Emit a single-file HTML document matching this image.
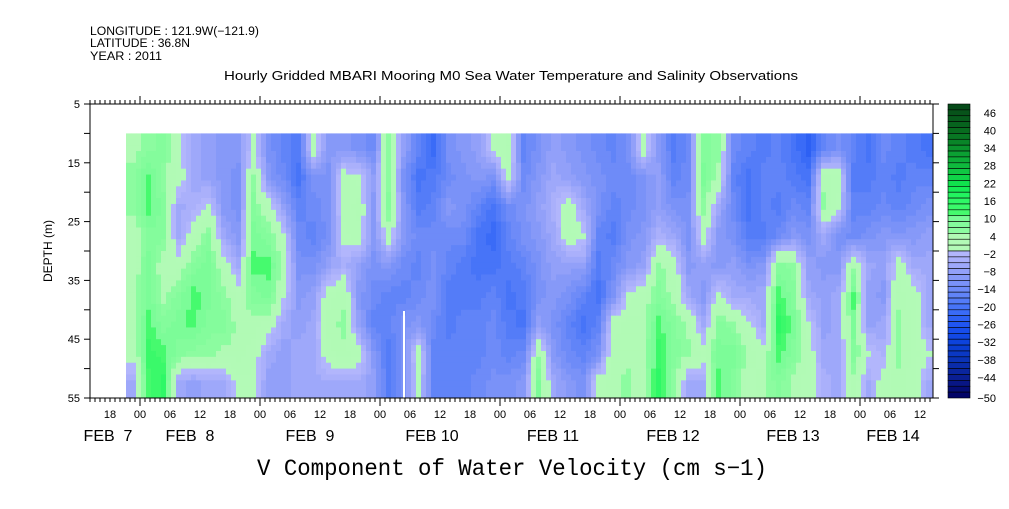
<!DOCTYPE html>
<html><head><meta charset="utf-8"><style>
body{margin:0;background:#fff;width:1009px;height:504px;overflow:hidden}
svg text{font-family:"Liberation Sans",sans-serif;fill:#000}
</style></head><body>
<svg id="chart" width="1009" height="504" xmlns="http://www.w3.org/2000/svg">
<g font-size="11.5">
<text x="90" y="35" textLength="169" lengthAdjust="spacingAndGlyphs">LONGITUDE : 121.9W(−121.9)</text>
<text x="90" y="47" textLength="100" lengthAdjust="spacingAndGlyphs">LATITUDE : 36.8N</text>
<text x="90" y="60" textLength="72" lengthAdjust="spacingAndGlyphs">YEAR : 2011</text>
</g>
<text x="224" y="80" font-size="13" textLength="574" lengthAdjust="spacingAndGlyphs">Hourly Gridded MBARI Mooring M0 Sea Water Temperature and Salinity Observations</text>
<g id="heat"></g>
<g id="axes"></g>
<g id="cbar"></g>
<text transform="translate(52,251) rotate(-90)" font-size="12" text-anchor="middle">DEPTH (m)</text>
<text x="512" y="475" font-size="23" text-anchor="middle" textLength="510" lengthAdjust="spacingAndGlyphs" style="font-family:'Liberation Mono',monospace">V Component of Water Velocity (cm s−1)</text>
</svg>
<script>
// hours relative to Feb 7 00:00 (center of each 3-hour column)
const colHours = [];
for (let k = 0; k < 54; k++) colHours.push(-2.8 + 3*k + 1.5);
const depths = [12.5,17.5,22.5,27.5,32.5,37.5,42.5,47.5,52.5];
const v0 = [[6,8,8,4,4,6,6,4,-4],[8,14,14,10,12,12,14,16,14],[10,8,10,10,4,6,10,14,18],[2,4,-4,-4,4,10,12,10,-4],[-4,-4,-2,4,10,14,14,8,-6],[-6,-6,2,10,12,12,10,8,-4],[-8,-8,-8,-4,4,8,10,6,-4],[-8,-10,-10,-8,-4,4,6,6,2],[2,8,10,12,14,10,6,4,2],[-10,-8,4,10,14,12,4,-4,-6],[-14,-12,-6,2,6,2,-4,-6,-6],[-16,-18,-14,-12,-10,-8,-6,-4,-4],[4,-10,-12,-14,-10,-6,-4,-4,-4],[-8,-10,-10,-10,-6,4,6,4,-4],[-8,4,4,2,-2,6,8,6,-4],[-10,2,6,4,-6,-8,-6,4,-4],[-12,-6,-8,-8,-10,-12,-14,-8,-6],[8,8,10,4,-8,-14,-14,-16,-16]];
const v1 = [[-6,-10,-8,-8,-12,-14,-10,-10,-10],[-14,-18,-16,-12,-14,-12,-8,4,2],[-20,-16,-14,-12,-10,-10,-12,-14,-14],[-10,-12,-8,-12,-14,-16,-16,-14,-14],[-8,-10,-10,-12,-16,-16,-14,-14,-14],[-6,-8,-14,-18,-18,-16,-14,-14,-12],[2,-10,-18,-20,-18,-14,-12,-12,-10],[6,4,-12,-14,-16,-18,-16,-14,-10],[-14,-12,-10,-10,-14,-16,-18,-12,-8],[-10,-8,-6,-8,-10,-10,-6,6,12],[-6,-4,-2,-4,-6,-8,-10,-8,-4],[-8,-6,4,4,-6,-10,-14,-12,-8],[-10,-8,-4,2,-6,-14,-18,-14,-10],[-12,-10,-10,-14,-16,-18,-14,-10,4],[-14,-12,-14,-16,-12,-10,4,6,6],[-10,-12,-12,-10,-8,2,6,6,8],[4,-10,-10,-8,-6,4,6,6,4],[-8,-6,-6,-2,8,10,14,16,18]];
const v2 = [[-16,-14,-10,-4,4,6,10,10,8],[-12,-12,-10,-10,-8,-4,6,8,-4],[10,12,8,4,-6,-8,-4,4,-4],[8,6,-4,-8,-8,2,10,12,14],[-12,-14,-12,-10,-6,-4,8,12,10],[-14,-18,-18,-16,-10,-4,2,6,4],[-16,-14,-14,-16,-8,-4,-4,4,6],[-14,-14,-16,-12,10,14,18,14,10],[-18,-16,-12,-8,8,10,12,10,6],[-22,-18,-14,-10,-6,-4,2,4,4],[-14,6,8,-4,-8,-6,-6,-4,-2],[-10,4,2,-10,-8,-4,-4,-4,-4],[-14,-16,-14,-12,6,14,12,10,6],[-18,-16,-14,-10,-4,-6,-6,2,-4],[-12,-14,-12,-8,-6,-8,-4,-2,4],[-14,-16,-14,-8,4,6,8,8,6],[-16,-14,-12,-8,-4,4,4,4,4],[-18,-14,-10,-6,-4,-4,-4,2,-4]];
const values = v0.concat(v1, v2);
const cbarTicks = [46,40,34,28,22,16,10,4,-2,-8,-14,-20,-26,-32,-38,-44,-50];
const yTicks = [5,15,25,35,45,55];
const hourLabels = ["18","00","06","12","18","00","06","12","18","00","06","12","18","00","06","12","18","00","06","12","18","00","06","12","18","00","06","12","18","00","06","12"];
const dayLabels = ["FEB  7","FEB  8","FEB  9","FEB 10","FEB 11","FEB 12","FEB 13","FEB 14"];
const dayLabelHours = [-6.4,10,34,58.4,82.6,106.6,130.6,150.6];

const NS="http://www.w3.org/2000/svg";
const X0=90,X1=933,Y0=104,Y1=398;
const xs=h=>140+5*h;
const ys=d=>Y0+(d-5)*(Y1-Y0)/50;
function mk(tag,attrs,parent){const e=document.createElementNS(NS,tag);for(const k in attrs)e.setAttribute(k,attrs[k]);parent.appendChild(e);return e;}
const stops=[[-50,[0,0,96]],[-44,[10,26,140]],[-38,[10,48,176]],[-32,[10,64,216]],[-26,[26,80,240]],[-20,[64,112,248]],[-14,[104,136,248]],[-8,[140,156,248]],[-2,[176,180,252]],[-1e-9,[180,184,252]],[0,[180,250,184]],[6,[176,250,180]],[7,[140,252,160]],[12,[120,252,150]],[13,[70,250,110]],[18,[40,248,100]],[22,[16,232,80]],[28,[16,192,64]],[34,[10,154,48]],[40,[8,112,32]],[50,[6,70,24]]];
function color(v){v=Math.max(-50,Math.min(49.9,v));v=Math.floor(v/2)*2+1;
 for(let i=0;i<stops.length-1;i++){const a=stops[i],b=stops[i+1];if(v>=a[0]&&v<=b[0]){const t=(v-a[0])/(b[0]-a[0]);const c=a[1].map((q,j)=>Math.round(q+(b[1][j]-q)*t));return`rgb(${c})`;}}return"#000";}
function interp(h,d){
 let fi=(h-colHours[0])/3;fi=Math.max(0,Math.min(colHours.length-1,fi));
 let fj=(d-depths[0])/5;fj=Math.max(0,Math.min(depths.length-1,fj));
 const i0=Math.floor(fi),i1=Math.min(i0+1,colHours.length-1),j0=Math.floor(fj),j1=Math.min(j0+1,depths.length-1);
 const ti=fi-i0,tj=fj-j0;
 const a=values[i0][j0]*(1-tj)+values[i0][j1]*tj,b=values[i1][j0]*(1-tj)+values[i1][j1]*tj;
 return a*(1-ti)+b*ti;}
const heat=document.getElementById('heat');
const hStart=(126-140)/5,hEnd=(X1-140)/5;
for(let h=hStart;h<hEnd;h+=1){
 for(let d=10;d<55;d+=1){
  const r=mk('rect',{x:xs(h),y:ys(d),width:5.3,height:(Y1-Y0)/50+0.4,fill:color(interp(h+0.5,d+0.5)-1)},heat);
  
  
 }
}
mk('rect',{x:403,y:311,width:2,height:87,fill:'#fff'},heat);
mk('rect',{x:X1,y:Y0,width:10,height:Y1-Y0,fill:'#fff'},heat);
const ax=document.getElementById('axes');
mk('rect',{x:X0,y:Y0,width:X1-X0,height:Y1-Y0,fill:'none',stroke:'#000','stroke-width':1},ax);
for(let h=-10;h<=158;h++){const x=xs(h);if(x<X0||x>X1)continue;const maj=((h%24)+24)%24===0;
 mk('line',{x1:x,y1:Y0,x2:x,y2:Y0-(maj?8:4),stroke:'#000'},ax);
 mk('line',{x1:x,y1:Y1,x2:x,y2:Y1+(maj?8:4),stroke:'#000'},ax);}
for(let d=5;d<=55;d+=5){const y=ys(d);mk('line',{x1:X0-6,y1:y,x2:X0,y2:y,stroke:'#000'},ax);mk('line',{x1:X1,y1:y,x2:X1+6,y2:y,stroke:'#000'},ax);}
yTicks.forEach(d=>{const t=mk('text',{x:80,y:ys(d)+4,'font-size':11,'text-anchor':'end'},ax);t.textContent=d;
 
 });
hourLabels.forEach((s,i)=>{const h=-6+6*i;if(xs(h)>X1)return;const t=mk('text',{x:xs(h),y:418,'font-size':11,'text-anchor':'middle'},ax);t.textContent=s;
 
 });
dayLabels.forEach((s,i)=>{const t=mk('text',{x:xs(dayLabelHours[i]),y:441,'font-size':16,'text-anchor':'middle','xml:space':'preserve'},ax);t.textContent=s;t.style.whiteSpace='pre';
 
 });
const cb=document.getElementById('cbar');
const cx=948,cw=22,nb=50,bh=(Y1-Y0)/nb;
for(let i=0;i<nb;i++){const v=48-2*i;const r=mk('rect',{x:cx,y:Y0+i*bh,width:cw,height:bh,fill:color(v+1),stroke:'#000','stroke-width':0.6},cb);
 
 }
cbarTicks.forEach(v=>{const y=Y0+(48-v)/2*bh+bh*0.5+ (v===-50?bh*0.5:0);const t=mk('text',{x:996,y:y+4,'font-size':11,'text-anchor':'end'},cb);t.textContent=String(v).replace('-','−');
 
 });
</script>
</body></html>
